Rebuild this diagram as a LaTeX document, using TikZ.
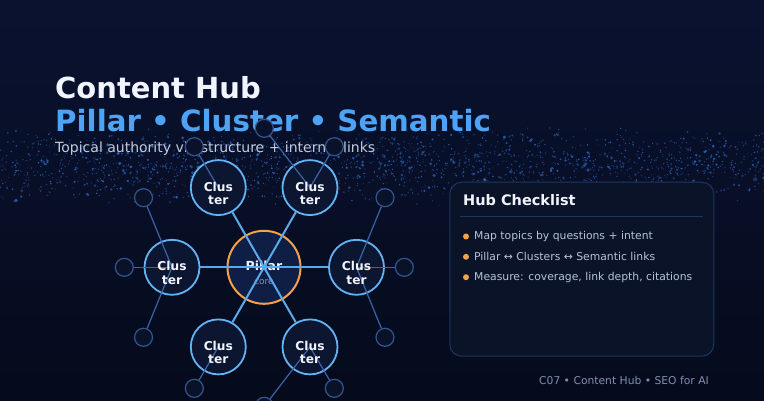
\documentclass[tikz,border=0pt]{standalone}
\usepackage{fontspec}
\setmainfont{DejaVu Sans}
\definecolor{bgtop}{HTML}{0A1230}
\definecolor{bgbot}{HTML}{050B1C}
\definecolor{dotc}{HTML}{2A62B8}
\definecolor{titlew}{HTML}{F2F5FF}
\definecolor{titleb}{HTML}{4DA3F5}
\definecolor{subg}{HTML}{C3CCDD}
\definecolor{pilfill}{HTML}{0F1E44}
\definecolor{pilor}{HTML}{F5A04A}
\definecolor{clstroke}{HTML}{63B3F5}
\definecolor{clfill}{HTML}{0C1630}
\definecolor{mainline}{HTML}{5AA9EA}
\definecolor{satline}{HTML}{3B64A8}
\definecolor{satstroke}{HTML}{34558F}
\definecolor{satfill}{HTML}{0A1229}
\definecolor{boxfill}{HTML}{0B1328}
\definecolor{boxline}{HTML}{1F3560}
\definecolor{itemc}{HTML}{B6C2D8}
\definecolor{footc}{HTML}{7E8FB0}
\definecolor{corec}{HTML}{7F90B5}
\tikzset{
  pillarnode/.style={circle, draw=pilor, line width=2pt, fill=pilfill, minimum size=73pt, inner sep=0pt},
  clusternode/.style={circle, draw=clstroke, line width=1.8pt, fill=clfill, minimum size=55pt, inner sep=0pt},
  satnode/.style={circle, draw=satstroke, line width=1.2pt, fill=satfill, minimum size=18pt, inner sep=0pt},
  hubline/.style={draw=mainline, line width=2pt},
  satlink/.style={draw=satline, line width=1.2pt},
  cltext/.style={text=titlew, font=\bfseries\fontsize{12.2}{13.3}\selectfont, align=center, inner sep=0pt},
  itemtext/.style={text=itemc, font=\fontsize{10.8}{13}\selectfont, anchor=west, inner sep=0pt},
  bulletdot/.style={circle, fill=pilor, inner sep=0pt, minimum size=6pt},
}
\begin{document}
\begin{tikzpicture}[x=1pt,y=-1pt]
\useasboundingbox (0,0) rectangle (764,400);
\shade[top color=bgtop, bottom color=bgbot] (0,0) rectangle (764,400);
% dot band
\pgfmathsetseed{7}
\foreach \i in {1,...,2000}{
  \pgfmathsetmacro\xx{764*rnd}
  \pgfmathsetmacro\yy{166+20*(rand+rand)}
  \pgfmathsetmacro\rr{0.6+1.7*rnd*rnd*rnd}
  \pgfmathsetmacro\op{0.35+0.6*rnd}
  \fill[dotc, opacity=\op] (\xx,\yy) circle[radius=\rr];
}
% titles
\node[anchor=base west, inner sep=0pt, text=titlew, font=\bfseries\fontsize{29}{31}\selectfont] (t1) at (55,98) {Content Hub};
\node[anchor=base west, inner sep=0pt, text=titleb, font=\bfseries\fontsize{29.3}{31}\selectfont] (t2) at (55,131) {Pillar • Cluster • Semantic};
\node[anchor=base west, inner sep=0pt, text=subg, font=\fontsize{14}{16}\selectfont] (t3) at (55,152) {Topical authority via structure + internal links};
% pillar
\node[pillarnode] (p) at (264,267.3) {};
\node[text=titlew, font=\bfseries\fontsize{12.5}{14}\selectfont, inner sep=0pt] (pl) at (264,265.5) {Pillar};
\node[text=corec, font=\fontsize{9}{10}\selectfont, inner sep=0pt] (pc) at (264,282) {core};
% clusters
\node[clusternode] (c1) at (310,187.6) {};
\node[clusternode] (c2) at (218.3,187.6) {};
\node[clusternode] (c3) at (172,267.3) {};
\node[clusternode] (c4) at (218.3,346.9) {};
\node[clusternode] (c5) at (310,346.9) {};
\node[clusternode] (c6) at (356.5,267.3) {};
\foreach \c in {c1,c2,c3,c4,c5,c6}{\draw[hubline] (p.center) -- (\c);}
% satellites
\node[satnode] (s1) at (194.3,146.7) {};
\node[satnode] (s2) at (264.3,128.3) {};
\node[satnode] (s3) at (334.3,146.7) {};
\node[satnode] (s4) at (143.5,197.7) {};
\node[satnode] (s5) at (124.3,267.3) {};
\node[satnode] (s6) at (143.5,337.3) {};
\node[satnode] (s7) at (385,197.7) {};
\node[satnode] (s8) at (404.3,267.3) {};
\node[satnode] (s9) at (385,337.3) {};
\node[satnode] (s10) at (194.3,388.3) {};
\node[satnode] (s11) at (334.3,388.3) {};
\node[satnode] (s12) at (264.3,406.3) {};
\draw[satlink] (c2.center) -- (s1);
\draw[satlink] (c1.center) -- (s2);
\draw[satlink] (c1.center) -- (s3);
\draw[satlink] (c3.center) -- (s4);
\draw[satlink] (c3.center) -- (s5);
\draw[satlink] (c3.center) -- (s6);
\draw[satlink] (c6.center) -- (s7);
\draw[satlink] (c6.center) -- (s8);
\draw[satlink] (c6.center) -- (s9);
\draw[satlink] (c4.center) -- (s10);
\draw[satlink] (c5.center) -- (s11);
\draw[satlink] (c5.center) -- (s12);
% cluster labels
\foreach \c in {c1,c2,c3,c4,c5,c6}{\node[cltext] (\c l) at ([yshift=-5.5pt]\c.center) {Clus\\ter};}
% checklist
\node[draw=boxline, line width=1pt, fill=boxfill, rounded corners=12pt, minimum width=264pt, minimum height=174pt, anchor=north west, inner sep=0pt] (box) at (449.3,181.7) {};
\node[anchor=base west, inner sep=0pt, text=titlew, font=\bfseries\fontsize{14.5}{16}\selectfont] (bt) at (463,205) {Hub Checklist};
\draw[boxline, line width=1pt] ([xshift=11pt,yshift=-34.3pt]box.north west) coordinate (sepa) -- ([xshift=-11pt,yshift=-34.3pt]box.north east) coordinate (sepb);
\node[bulletdot] (b1) at (466,236.5) {};
\node[bulletdot] (b2) at (466,256.8) {};
\node[bulletdot] (b3) at (466,277.2) {};
\node[itemtext] (i1) at (474,236.6) {Map topics by questions + intent};
\node[itemtext] (i2) at (474,256.9) {Pillar ↔ Clusters ↔ Semantic links};
\node[itemtext] (i3) at (474,277.3) {Measure: coverage, link depth, citations};
% footer
\node[anchor=base east, inner sep=0pt, text=footc, font=\fontsize{10.75}{13}\selectfont] (ft) at (709,384) {C07 • Content Hub • SEO for AI};
\end{tikzpicture}
\end{document}
